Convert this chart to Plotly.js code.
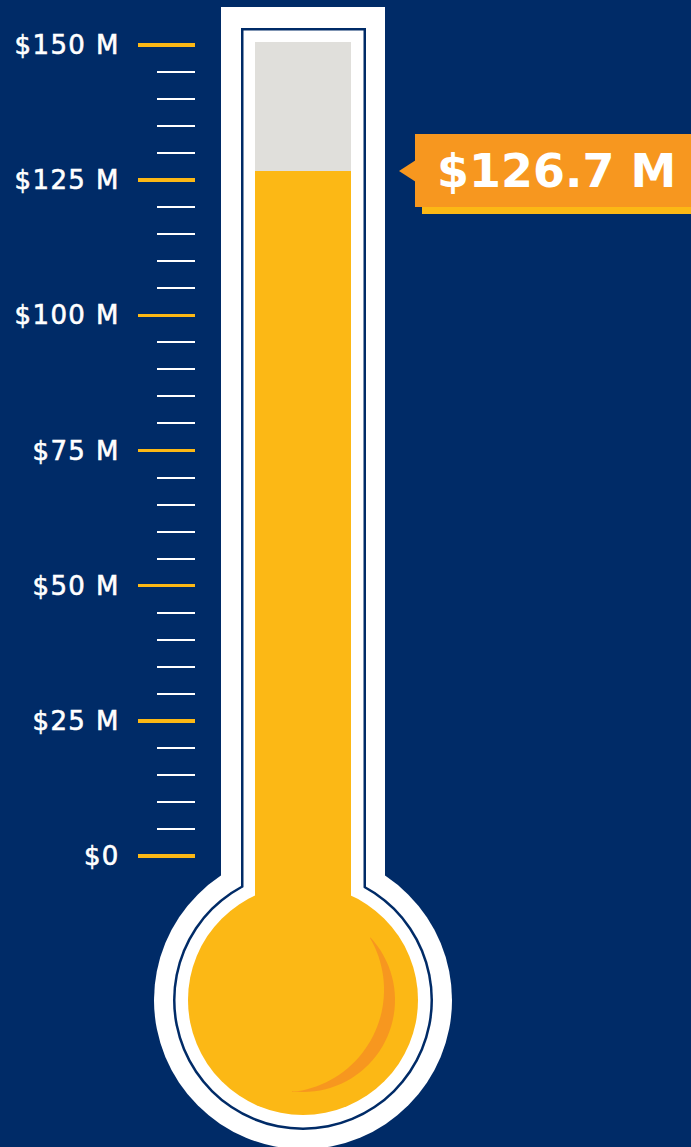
<!DOCTYPE html>
<html>
<head>
<meta charset="utf-8">
<script src="https://cdn.plot.ly/plotly-3.0.1.min.js"></script>
<style>
html,body{margin:0;padding:0;background:#002B67;}
#chart{width:691px;height:1147px;}
#chart .ytick text{letter-spacing:1.4px;stroke:#FFFFFF;stroke-width:0.6px;}
</style>
</head>
<body>
<div id="chart"></div>
<script>
// ---- data ----
const raisedValue = 126.7;           // $ millions raised
const goalValue = 150;               // $ millions goal
const majorTickVals = [0, 25, 50, 75, 100, 125, 150];
const majorTickText = ['$0', '$25 M', '$50 M', '$75 M', '$100 M', '$125 M', '$150 M'];
const minorStep = 5;

// ---- colours ----
const NAVY = '#002B67';
const YELLOW = '#FCB815';
const ORANGE = '#F7971F';
const GRAY = '#E0DFDB';
const WHITE = '#FFFFFF';

// ---- geometry helpers (x axis in pixels, y axis in $M) ----
const W = 691, H = 1147;
const PX0 = 856, PX150 = 45;
const k = (PX0 - PX150) / goalValue;          // px per $M
const yMax = goalValue + PX150 / k;
const yMin = -(H - PX0) / k;
const yv = p => (PX0 - p) / k;               // pixel row -> value
const py = v => PX0 - v * k;                 // value -> pixel row

const CX = 303, CY = 1000;                    // bulb centre (pixels)

const minorTickVals = [];
for (let v = 0; v <= goalValue; v += minorStep) {
  if (majorTickVals.indexOf(v) < 0) minorTickVals.push(v);
}

function rect(x0, x1, p0, p1, color) {
  return {type: 'rect', xref: 'x', yref: 'y', layer: 'below',
          x0: x0, x1: x1, y0: yv(p1), y1: yv(p0),
          fillcolor: color, line: {width: 0}};
}
function circle(r, color) {
  return {type: 'circle', xref: 'x', yref: 'y', layer: 'below',
          x0: CX - r, x1: CX + r, y0: yv(CY + r), y1: yv(CY - r),
          fillcolor: color, line: {width: 0}};
}
function pathShape(pts, color) {
  const d = pts.map((p, i) => (i ? 'L' : 'M') + p[0].toFixed(2) + ',' + yv(p[1]).toFixed(4)).join(' ') + ' Z';
  return {type: 'path', xref: 'x', yref: 'y', layer: 'below', path: d,
          fillcolor: color, line: {width: 0}};
}

// crescent highlight inside bulb
function crescent() {
  const P1 = [370, 938], P2 = [292, 1092];
  const r1 = 92;
  const a1 = Math.atan2(P1[1] - CY, P1[0] - CX), a2 = Math.atan2(P2[1] - CY, P2[0] - CX);
  const c2 = [281.3, 989.8];
  const r2 = Math.hypot(P1[0] - c2[0], P1[1] - c2[1]);
  const b1 = Math.atan2(P1[1] - c2[1], P1[0] - c2[0]), b2 = Math.atan2(P2[1] - c2[1], P2[0] - c2[0]);
  const pts = [];
  const n = 40;
  for (let i = 0; i <= n; i++) {
    const a = a1 + (a2 - a1) * i / n;
    pts.push([CX + r1 * Math.cos(a), CY + r1 * Math.sin(a)]);
  }
  for (let i = 0; i <= n; i++) {
    const b = b2 + (b1 - b2) * i / n;
    pts.push([c2[0] + r2 * Math.cos(b), c2[1] + r2 * Math.sin(b)]);
  }
  return pathShape(pts, ORANGE);
}

const tipPx = py(raisedValue);
const shapes = [
  // outer white body
  rect(221, 385, 7, 920, WHITE),
  circle(149, WHITE),
  // navy outline
  rect(241, 366, 28, 920, NAVY),
  circle(130, NAVY),
  circle(127.5, WHITE),
  rect(243.5, 363.5, 30.5, 920, WHITE),
  // empty tube
  rect(255, 351, 42, 905, GRAY),
  // bulb
  circle(115, YELLOW),
  crescent(),
  // callout shadow + box + pointer
  rect(422, 700, tipPx - 30, tipPx + 43, YELLOW),
  rect(415, 700, tipPx - 37, tipPx + 36, ORANGE),
  pathShape([[399, tipPx], [416, tipPx - 11], [416, tipPx + 11]], ORANGE)
];

const tubeBase = yv(905);
const traces = [{
  type: 'bar',
  x: [CX], width: [96],
  base: [tubeBase], y: [raisedValue - tubeBase],
  marker: {color: YELLOW, line: {width: 0}},
  hoverinfo: 'skip', showlegend: false
}];

const layout = {
  width: W, height: H,
  margin: {l: 0, r: 0, t: 0, b: 0},
  paper_bgcolor: NAVY, plot_bgcolor: NAVY,
  showlegend: false,
  xaxis: {range: [0, W], visible: false, fixedrange: true},
  yaxis: {
    range: [yMin, yMax], anchor: 'free', position: 195 / W,
    showgrid: false, zeroline: false, showline: false,
    tickmode: 'array', tickvals: majorTickVals, ticktext: majorTickText,
    ticks: 'outside', ticklen: 57, tickwidth: 3.5, tickcolor: YELLOW,
    ticklabelstandoff: 13,
    tickfont: {family: 'DejaVu Sans', size: 26, color: WHITE},
    minor: {tickmode: 'array', tickvals: minorTickVals, ticks: 'outside', ticklen: 38, tickwidth: 2, tickcolor: WHITE, showgrid: false},
    fixedrange: true
  },
  shapes: shapes,
  annotations: [{
    xref: 'x', yref: 'y', x: 556, y: raisedValue,
    text: '$' + raisedValue.toFixed(1) + ' M',
    showarrow: false, xanchor: 'center', yanchor: 'middle',
    font: {family: 'DejaVu Sans', size: 46, color: WHITE, weight: 'bold'}
  }]
};

Plotly.newPlot('chart', traces, layout, {staticPlot: true, displayModeBar: false});
</script>
</body>
</html>
